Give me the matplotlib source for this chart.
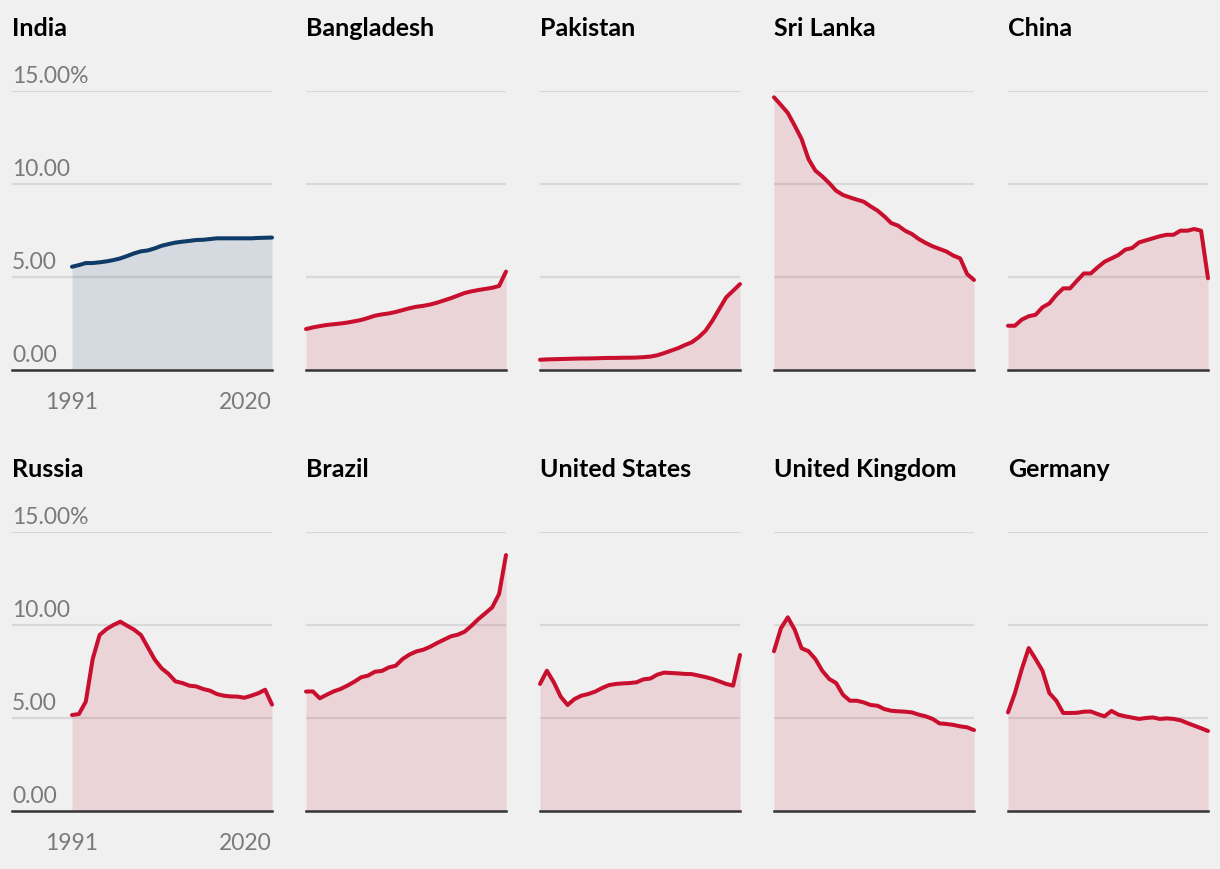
"""Small multiples: share by country, 1991-2020."""
import matplotlib
matplotlib.use("Agg")
import matplotlib.pyplot as plt

plt.rcParams.update({"font.family": ["Lato", "DejaVu Sans"], "figure.dpi": 100})
BG = "#f0f0f0"
RED, NAVY = "#c8102e", "#0f3b68"
GRID, BASE, TICK = "#d8d8d8", "#333333", "#7a7a7a"

years = list(range(1991, 2021))

india = [5.55, 5.64, 5.75, 5.75, 5.79, 5.84, 5.91, 6.00, 6.13, 6.27, 6.38, 6.43, 6.54, 6.68, 6.77,
         6.85, 6.90, 6.94, 6.99, 7.00, 7.04, 7.08, 7.08, 7.08, 7.08, 7.08, 7.08, 7.10, 7.11, 7.12]
bangladesh = [2.20, 2.29, 2.36, 2.42, 2.46, 2.50, 2.55, 2.62, 2.69, 2.80, 2.92, 2.99, 3.04, 3.12, 3.22,
              3.32, 3.40, 3.45, 3.52, 3.62, 3.74, 3.86, 4.00, 4.14, 4.23, 4.30, 4.36, 4.42, 4.52, 5.29]
pakistan = [0.55, 0.57, 0.58, 0.59, 0.60, 0.61, 0.62, 0.62, 0.63, 0.64, 0.65, 0.65, 0.66, 0.66, 0.67,
            0.69, 0.72, 0.79, 0.91, 1.04, 1.17, 1.34, 1.49, 1.76, 2.11, 2.65, 3.28, 3.91, 4.26, 4.62]
sri_lanka = [14.66, 14.25, 13.82, 13.14, 12.42, 11.34, 10.72, 10.41, 10.05, 9.64, 9.41, 9.28, 9.16, 9.05, 8.80,
             8.57, 8.26, 7.90, 7.76, 7.49, 7.31, 7.04, 6.83, 6.65, 6.51, 6.37, 6.15, 6.00, 5.16, 4.84]
china = [2.38, 2.38, 2.71, 2.89, 2.97, 3.37, 3.58, 4.03, 4.39, 4.39, 4.80, 5.19, 5.19, 5.52, 5.82,
         6.00, 6.18, 6.47, 6.56, 6.86, 6.97, 7.08, 7.19, 7.27, 7.27, 7.49, 7.49, 7.58, 7.49, 4.93]
russia = [5.16, 5.21, 5.88, 8.17, 9.46, 9.78, 10.00, 10.18, 9.96, 9.75, 9.46, 8.80, 8.14, 7.67, 7.37,
          6.97, 6.88, 6.74, 6.70, 6.56, 6.47, 6.29, 6.20, 6.16, 6.15, 6.09, 6.20, 6.33, 6.52, 5.72]
brazil = [6.42, 6.43, 6.06, 6.25, 6.43, 6.56, 6.74, 6.95, 7.19, 7.28, 7.49, 7.53, 7.72, 7.81, 8.17,
          8.41, 8.58, 8.67, 8.83, 9.03, 9.21, 9.39, 9.48, 9.64, 9.96, 10.32, 10.63, 10.95, 11.67, 13.76]
united_states = [6.83, 7.54, 6.92, 6.15, 5.70, 6.02, 6.20, 6.29, 6.42, 6.61, 6.77, 6.83, 6.86, 6.88, 6.92,
                 7.08, 7.12, 7.33, 7.44, 7.42, 7.40, 7.37, 7.36, 7.28, 7.20, 7.10, 6.97, 6.83, 6.74, 8.39]
united_kingdom = [8.59, 9.82, 10.41, 9.75, 8.75, 8.59, 8.17, 7.54, 7.10, 6.88, 6.25, 5.93, 5.93, 5.84, 5.70,
                  5.66, 5.48, 5.39, 5.36, 5.34, 5.30, 5.18, 5.09, 4.95, 4.71, 4.68, 4.63, 4.55, 4.50, 4.35]
germany = [5.30, 6.34, 7.63, 8.76, 8.17, 7.54, 6.34, 5.93, 5.27, 5.27, 5.28, 5.34, 5.35, 5.21, 5.09,
           5.38, 5.18, 5.09, 5.02, 4.95, 5.00, 5.03, 4.95, 4.98, 4.95, 4.88, 4.73, 4.59, 4.45, 4.30]

countries = ["India", "Bangladesh", "Pakistan", "Sri Lanka", "China",
             "Russia", "Brazil", "United States", "United Kingdom", "Germany"]
series = [india, bangladesh, pakistan, sri_lanka, china,
          russia, brazil, united_states, united_kingdom, germany]
highlight = "India"
y_ticks = [0, 5, 10, 15]
y_labels = ["0.00", "5.00", "10.00", "15.00%"]
x_ticks = [1991, 2020]

W, H = 1220, 870
fig = plt.figure(figsize=(W / 100, H / 100), facecolor=BG)

row_top = [92, 533]
panel_h = 279
col_left = [12, 306, 540, 774, 1008]
label_space = 60  # extra room left of the first column for y labels

for i, (name, vals) in enumerate(zip(countries, series)):
    r, c = divmod(i, 5)
    width = 200 + (label_space if c == 0 else 0)
    bottom = H - row_top[r] - panel_h
    ax = fig.add_axes([col_left[c] / W, bottom / H, width / W, panel_h / H])
    ax.set_facecolor(BG)
    for s in ax.spines.values():
        s.set_visible(False)
    ax.set_xticks([]); ax.set_yticks([])

    span = years[-1] - years[0]
    x0 = years[0] - (span * label_space / 200 if c == 0 else 0)
    ax.set_xlim(x0, years[-1])
    ax.set_ylim(0, 15)

    for v in y_ticks[1:]:
        ax.axhline(v, color=GRID, lw=1.6, zorder=1)
    ax.axhline(0, color=BASE, lw=1.8, zorder=4, clip_on=False)

    col = NAVY if name == highlight else RED
    ax.fill_between(years, vals, 0, color=col, alpha=0.12, lw=0, zorder=2)
    ax.plot(years, vals, color=col, lw=2.9, zorder=3, clip_on=False,
            solid_joinstyle="round", solid_capstyle="round")

    ax.annotate(name, xy=(0, 1), xycoords="axes fraction", xytext=(0, 56),
                textcoords="offset pixels", fontsize=18, fontweight="bold",
                color="black", ha="left", va="baseline")

    if c == 0:
        for v, lab in zip(y_ticks, y_labels):
            ax.annotate(lab, xy=(0, v), xycoords=("axes fraction", "data"),
                        xytext=(0, 9), textcoords="offset pixels",
                        fontsize=16.5, color=TICK, ha="left", va="baseline")
        for j, yr in enumerate(x_ticks):
            ax.annotate(str(yr), xy=(yr, 0), xycoords="data",
                        xytext=(0, -38), textcoords="offset pixels",
                        fontsize=16.5, color=TICK, va="baseline",
                        ha="center" if j == 0 else "right")

fig.savefig("out.png", dpi=100, facecolor=BG)
